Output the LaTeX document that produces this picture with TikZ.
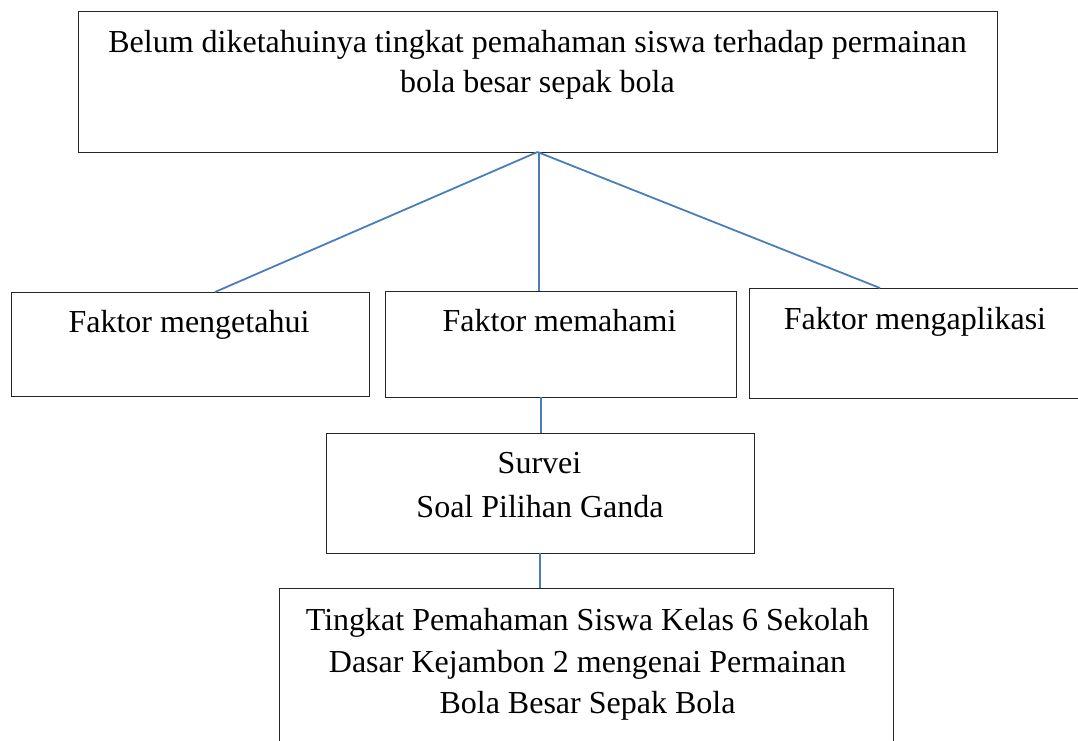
\documentclass[tikz,border=0pt]{standalone}
\usepackage{fontspec}
\setmainfont{Liberation Serif}
\usetikzlibrary{calc}
\definecolor{linkblue}{RGB}{74,126,187}
\begin{document}
\begin{tikzpicture}[x=1pt,y=-1pt,
  box/.style={draw=black!85, line width=1pt, inner sep=0pt, outer sep=0pt, fill=white},
  txt/.style={anchor=base, inner sep=0pt, font=\fontsize{32}{40}\selectfont},
  link/.style={draw=linkblue, line width=1.8pt}]
\useasboundingbox (0,0) rectangle (1078,740);
\clip (0,0) rectangle (1078,740);
% boxes
\node[box, minimum width=919pt, minimum height=141pt] (top) at (537.5,81.5) {};
\node[box, minimum width=358pt, minimum height=104pt] (b1) at (190,344) {};
\node[box, minimum width=351pt, minimum height=106pt] (b2) at (560.5,344) {};
\node[box, minimum width=341pt, minimum height=110pt] (b3) at (919.5,343) {};
\node[box, minimum width=428pt, minimum height=120pt] (sv) at (540,493) {};
\node[box, minimum width=614pt, minimum height=172pt] (bt) at (586,674) {};
% texts
\node[txt] (t1) at (537.5,52) {Belum diketahuinya tingkat pemahaman siswa terhadap permainan};
\node[txt] (t2) at (537.5,92) {bola besar sepak bola};
\node[txt] (f1) at (189,332) {Faktor mengetahui};
\node[txt] (f2) at (559.5,331) {Faktor memahami};
\node[txt] (f3) at (915,329) {Faktor mengaplikasi};
\node[txt] (s1) at (539.5,473) {Survei};
\node[txt] (s2) at (540,517) {Soal Pilihan Ganda};
\node[txt] (r1) at (587.5,630) {Tingkat Pemahaman Siswa Kelas 6 Sekolah};
\node[txt] (r2) at (587.5,672) {Dasar Kejambon 2 mengenai Permainan};
\node[txt] (r3) at (587.5,713) {Bola Besar Sepak Bola};
% connectors
\coordinate (apex) at (top.south);
\coordinate (apexv) at ($(apex)+(1.5,0)$);
\coordinate (svtop) at ($(sv.north)+(1,0)$);
\draw[link] (apex) -- ($(b1.north west)+(204,0)$);
\draw[link] (apexv) -- (apexv |- b2.north);
\draw[link] (apex) -- ($(b3.north west)+(131,0)$);
\draw[link] (svtop |- b2.south) -- (svtop);
\draw[link] (sv.south) -- (sv.south |- bt.north);
\end{tikzpicture}
\end{document}
